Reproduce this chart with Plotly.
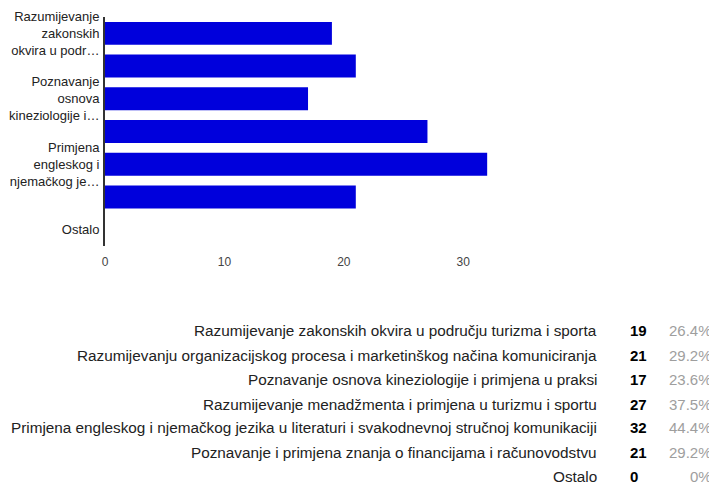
import plotly.graph_objects as go

categories = [
    "Razumijevanje zakonskih okvira u području turizma i sporta",
    "Razumijevanju organizacijskog procesa i marketinškog načina komuniciranja",
    "Poznavanje osnova kineziologije i primjena u praksi",
    "Razumijevanje menadžmenta i primjena u turizmu i sportu",
    "Primjena engleskog i njemačkog jezika u literaturi i svakodnevnoj stručnoj komunikaciji",
    "Poznavanje i primjena znanja o financijama i računovodstvu",
    "Ostalo",
]
values = [19, 21, 17, 27, 32, 21, 0]
percents = ["26.4%", "29.2%", "23.6%", "37.5%", "44.4%", "29.2%", "0%"]
tick_categories = [categories[0], categories[2], categories[4], categories[6]]
tick_labels = [
    "Razumijevanje<br>zakonskih<br>okvira u podr…",
    "Poznavanje<br>osnova<br>kineziologije i…",
    "Primjena<br>engleskog i<br>njemačkog je…",
    "Ostalo",
]
x_ticks = [0, 10, 20, 30]

# page body has an 8px margin; the figure is sized to fit inside the window
OFF = 8
W, H = 717 - OFF, 502 - OFF
ML, MR, MT, MB = 105 - OFF, 194, 17 - OFF, 256
PW = W - ML - MR
PH = H - MT - MB
FONT = "Liberation Sans, Arial, sans-serif"

fig = go.Figure(go.Bar(
    x=values, y=categories, orientation="h",
    marker=dict(color="#0000dc", line=dict(width=0)),
    hoverinfo="x+y",
))

def px(xp):
    return (xp - OFF - ML) / PW

def py(yp):
    return (H - MB - (yp - OFF)) / PH

row_y = [331, 355, 379, 404, 428, 452, 477]
ann = []
for cat, v, p, yy in zip(categories, values, percents, row_y):
    ann.append(dict(x=px(599), y=py(yy), xref="paper", yref="paper", text=cat,
                    xanchor="right", yanchor="middle", showarrow=False,
                    font=dict(size=15.3, color="#222222", family=FONT)))
    ann.append(dict(x=px(628), y=py(yy), xref="paper", yref="paper", text="<b>%d</b>" % v,
                    xanchor="left", yanchor="middle", showarrow=False,
                    font=dict(size=15, color="#000000", family=FONT)))
    ann.append(dict(x=px(714), y=py(yy), xref="paper", yref="paper", text=p,
                    xanchor="right", yanchor="middle", showarrow=False,
                    font=dict(size=15, color="#9e9e9e", family=FONT)))

fig.update_layout(
    width=W, height=H,
    margin=dict(l=ML, r=MR, t=MT, b=MB, autoexpand=False),
    paper_bgcolor="white", plot_bgcolor="white",
    bargap=0.3, showlegend=False,
    font=dict(family=FONT, size=13, color="#222222"),
    xaxis=dict(range=[0, 35], tickvals=x_ticks, showgrid=False, zeroline=False,
               showline=False, ticks="outside", ticklen=5, tickcolor="rgba(0,0,0,0)",
               tickfont=dict(size=12, color="#444444", family=FONT)),
    yaxis=dict(categoryorder="array", categoryarray=categories, autorange="reversed",
               tickvals=tick_categories, ticktext=tick_labels, showgrid=False,
               showline=True, linecolor="#333333", linewidth=2, zeroline=False,
               ticks="outside", ticklen=1, tickcolor="rgba(0,0,0,0)",
               tickfont=dict(size=13, color="#222222", family=FONT)),
    annotations=ann,
)

fig.write_html("out.html")
